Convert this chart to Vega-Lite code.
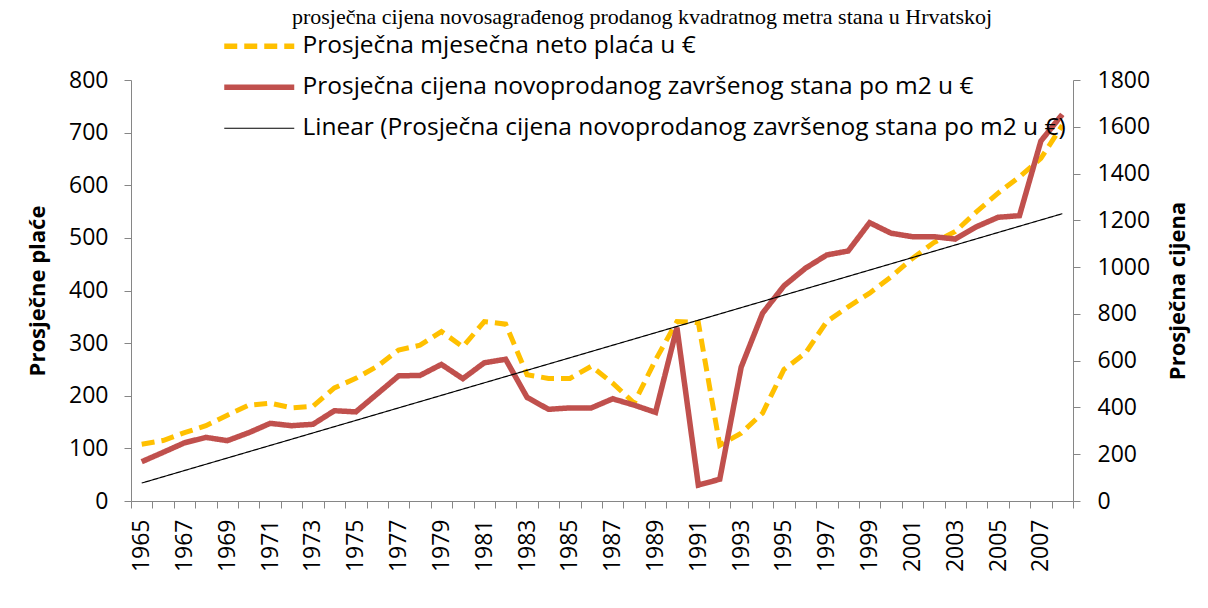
{
  "$schema": "https://vega.github.io/schema/vega-lite/v6.json",
  "width": 942,
  "height": 421,
  "autosize": "none",
  "padding": {"left": 131, "top": 80, "right": 135, "bottom": 107},
  "background": "white",
  "title": {
    "text": "prosječna cijena novosagrađenog prodanog kvadratnog metra stana u Hrvatskoj",
    "font": "Liberation Serif",
    "fontSize": 22,
    "fontWeight": "normal",
    "color": "black",
    "anchor": "middle",
    "frame": "group",
    "baseline": "alphabetic",
    "dx": 40,
    "dy": 12,
    "offset": 0
  },
  "config": {
    "view": {"stroke": null},
    "axis": {
      "grid": false,
      "domainColor": "#868686",
      "tickColor": "#868686",
      "tickSize": 7,
      "labelFont": "Open Sans",
      "labelFontSize": 23,
      "labelColor": "black",
      "titleFont": "Open Sans",
      "titleFontSize": 22,
      "titleFontWeight": "bold",
      "titleColor": "black"
    },
    "legend": {
      "orient": "none",
      "legendX": 116,
      "legendY": -46,
      "direction": "vertical",
      "symbolType": "stroke",
      "symbolSize": 4900,
      "symbolStrokeWidth": 5.5,
      "labelFont": "Open Sans",
      "labelFontSize": 24.5,
      "labelColor": "black",
      "labelOffset": 31,
      "labelLimit": 1000,
      "rowPadding": 16,
      "title": null
    }
  },
  "data": {
    "values": [
      {"year": 1965, "wage": 108, "price": 168},
      {"year": 1966, "wage": 115, "price": 208},
      {"year": 1967, "wage": 130, "price": 249},
      {"year": 1968, "wage": 143, "price": 272},
      {"year": 1969, "wage": 163, "price": 258},
      {"year": 1970, "wage": 182, "price": 292},
      {"year": 1971, "wage": 186, "price": 332},
      {"year": 1972, "wage": 177, "price": 322},
      {"year": 1973, "wage": 180, "price": 328},
      {"year": 1974, "wage": 215, "price": 386},
      {"year": 1975, "wage": 233, "price": 381},
      {"year": 1976, "wage": 256, "price": 458},
      {"year": 1977, "wage": 287, "price": 535},
      {"year": 1978, "wage": 296, "price": 537},
      {"year": 1979, "wage": 322, "price": 584},
      {"year": 1980, "wage": 293, "price": 523},
      {"year": 1981, "wage": 341, "price": 591},
      {"year": 1982, "wage": 336, "price": 606},
      {"year": 1983, "wage": 240, "price": 443},
      {"year": 1984, "wage": 233, "price": 392},
      {"year": 1985, "wage": 233, "price": 398},
      {"year": 1986, "wage": 256, "price": 398},
      {"year": 1987, "wage": 224, "price": 437},
      {"year": 1988, "wage": 186, "price": 410},
      {"year": 1989, "wage": 268, "price": 379},
      {"year": 1990, "wage": 341, "price": 741},
      {"year": 1991, "wage": 339, "price": 68},
      {"year": 1992, "wage": 106, "price": 93},
      {"year": 1993, "wage": 129, "price": 572},
      {"year": 1994, "wage": 167, "price": 803},
      {"year": 1995, "wage": 250, "price": 920},
      {"year": 1996, "wage": 281, "price": 995},
      {"year": 1997, "wage": 341, "price": 1052},
      {"year": 1998, "wage": 369, "price": 1069},
      {"year": 1999, "wage": 395, "price": 1190},
      {"year": 2000, "wage": 426, "price": 1145},
      {"year": 2001, "wage": 461, "price": 1130},
      {"year": 2002, "wage": 491, "price": 1130},
      {"year": 2003, "wage": 512, "price": 1120},
      {"year": 2004, "wage": 550, "price": 1173},
      {"year": 2005, "wage": 585, "price": 1213},
      {"year": 2006, "wage": 616, "price": 1220},
      {"year": 2007, "wage": 651, "price": 1539},
      {"year": 2008, "wage": 714, "price": 1653}
    ]
  },
  "encoding": {
    "x": {
      "field": "year",
      "type": "quantitative",
      "scale": {"domain": [1964.5, 2008.5], "nice": false, "zero": false},
      "axis": {
        "title": null,
        "values": [1964.5, 1965.5, 1966.5, 1967.5, 1968.5, 1969.5, 1970.5, 1971.5, 1972.5, 1973.5, 1974.5, 1975.5, 1976.5, 1977.5, 1978.5, 1979.5, 1980.5, 1981.5, 1982.5, 1983.5, 1984.5, 1985.5, 1986.5, 1987.5, 1988.5, 1989.5, 1990.5, 1991.5, 1992.5, 1993.5, 1994.5, 1995.5, 1996.5, 1997.5, 1998.5, 1999.5, 2000.5, 2001.5, 2002.5, 2003.5, 2004.5, 2005.5, 2006.5, 2007.5, 2008.5],
        "labelExpr": "(datum.value + 0.5) % 2 == 1 && datum.value < 2008 ? format(datum.value + 0.5, 'd') : ''",
        "labelAngle": 270,
        "labelOffset": 10.7,
        "labelPadding": 11,
        "labelOverlap": false,
        "labelFlush": false
      }
    }
  },
  "layer": [
    {
      "mark": {"type": "line", "strokeCap": "butt", "strokeWidth": 5},
      "encoding": {
        "y": {
          "field": "wage",
          "type": "quantitative",
          "scale": {"domain": [0, 800], "nice": false},
          "axis": {"title": "Prosječne plaće", "orient": "left", "values": [0, 100, 200, 300, 400, 500, 600, 700, 800], "format": "d", "labelPadding": 16, "titlePadding": 19}
        },
        "color": {
          "datum": "Prosječna mjesečna neto plaća u €",
          "type": "nominal",
          "scale": {
            "domain": ["Prosječna mjesečna neto plaća u €", "Prosječna cijena novoprodanog završenog stana po m2 u €", "Linear (Prosječna cijena novoprodanog završenog stana po m2 u €)"],
            "range": ["#FFC000", "#C0504D", "#000000"]
          },
          "legend": {
            "encode": {
              "symbols": {
                "update": {
                  "strokeWidth": {"signal": "datum.index == 2 ? 1.2 : 5.5"}
                }
              }
            }
          }
        },
        "strokeDash": {
          "datum": "Prosječna mjesečna neto plaća u €",
          "type": "nominal",
          "scale": {
            "domain": ["Prosječna mjesečna neto plaća u €", "Prosječna cijena novoprodanog završenog stana po m2 u €", "Linear (Prosječna cijena novoprodanog završenog stana po m2 u €)"],
            "range": [[13, 7], [1, 0], [1, 0]]
          }
        }
      }
    },
    {
      "layer": [
        {
          "mark": {"type": "line", "strokeWidth": 5.5},
          "encoding": {
            "y": {
              "field": "price",
              "type": "quantitative",
              "scale": {"domain": [0, 1800], "nice": false},
              "axis": {"title": "Prosječna cijena", "orient": "right", "values": [0, 200, 400, 600, 800, 1000, 1200, 1400, 1600, 1800], "format": "d", "labelPadding": 17, "titlePadding": 40, "titleAngle": 270}
            },
            "color": {"datum": "Prosječna cijena novoprodanog završenog stana po m2 u €", "type": "nominal"},
            "strokeDash": {"datum": "Prosječna cijena novoprodanog završenog stana po m2 u €", "type": "nominal"}
          }
        },
        {
          "transform": [{"regression": "price", "on": "year"}],
          "mark": {"type": "line", "strokeWidth": 1.2},
          "encoding": {
            "y": {"field": "price", "type": "quantitative"},
            "color": {"datum": "Linear (Prosječna cijena novoprodanog završenog stana po m2 u €)", "type": "nominal"},
            "strokeDash": {"datum": "Linear (Prosječna cijena novoprodanog završenog stana po m2 u €)", "type": "nominal"}
          }
        }
      ]
    }
  ],
  "resolve": {"scale": {"y": "independent"}}
}
